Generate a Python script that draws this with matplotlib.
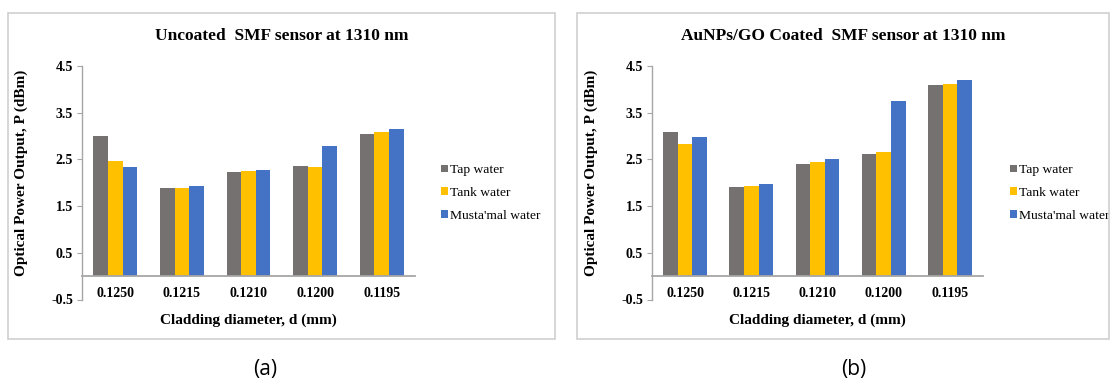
import numpy as np
import matplotlib
matplotlib.use('Agg')
import matplotlib.pyplot as plt
from matplotlib.patches import Rectangle

# data
diameters = ['0.1250', '0.1215', '0.1210', '0.1200', '0.1195']
series_names = ['Tap water', 'Tank water', "Musta'mal water"]

uncoated_tap = [3.00, 1.88, 2.22, 2.35, 3.05]
uncoated_tank = [2.47, 1.88, 2.25, 2.33, 3.08]
uncoated_mustamal = [2.33, 1.94, 2.28, 2.78, 3.15]

coated_tap = [3.09, 1.90, 2.41, 2.61, 4.09]
coated_tank = [2.84, 1.92, 2.45, 2.65, 4.11]
coated_mustamal = [2.98, 1.97, 2.51, 3.74, 4.20]

colors = ['#767171', '#FFC000', '#4472C4']
yticks = [-0.5, 0.5, 1.5, 2.5, 3.5, 4.5]

plt.rcParams['font.family'] = ['Liberation Serif', 'DejaVu Serif']

W, H = 1110, 383
fig = plt.figure(figsize=(W / 100, H / 100), dpi=100)


def fx(px):
    return px / W


def fy(py):
    return 1 - py / H


def draw_panel(left_px, right_px, box_left, box_right, title, series, legend_x, tag, tag_x):
    # outer chart frame
    fig.patches.append(Rectangle((fx(box_left), fy(339)), fx(box_right - box_left), (339 - 13) / H,
                                 transform=fig.transFigure, fill=False,
                                 edgecolor='#d0d0d0', linewidth=1.2))
    ax = fig.add_axes([fx(left_px), fy(299.5), fx(right_px - left_px), 233.5 / H])
    # spine position first, it resets the ticks
    ax.spines['bottom'].set_position(('data', 0))
    x = np.arange(len(diameters))
    bw = 0.22
    for i, vals in enumerate(series):
        ax.bar(x + (i - 1) * bw, vals, bw, color=colors[i], label=series_names[i])
    ax.set_xlim(-0.5, len(diameters) - 0.5)
    ax.set_ylim(-0.5, 4.5)
    ax.set_yticks(yticks)
    ax.set_yticklabels([f'{t:.1f}' for t in yticks], fontsize=10, fontweight='bold')
    ax.set_xticks(x)
    ax.set_xticklabels(diameters, fontsize=10, fontweight='bold')
    ax.spines['top'].set_visible(False)
    ax.spines['right'].set_visible(False)
    ax.spines['bottom'].set_color('#a6a6a6')
    ax.spines['left'].set_color('#a6a6a6')
    ax.spines['bottom'].set_linewidth(1.3)
    ax.spines['left'].set_linewidth(1.0)
    ax.tick_params(axis='x', length=0, pad=8)
    ax.tick_params(axis='y', length=3.5, color='#a6a6a6', pad=3)
    ax.set_ylabel('Optical Power Output, P (dBm)', fontsize=11, fontweight='bold')
    ax.yaxis.set_label_coords(-54 / (right_px - left_px), 0.542)
    fig.text(fx((box_left + box_right) / 2), fy(36), title, ha='center', va='center',
             fontsize=12.5, fontweight='bold')
    fig.text(fx((left_px + right_px) / 2), fy(320), 'Cladding diameter, d (mm)', ha='center',
             va='center', fontsize=11, fontweight='bold')
    ax.legend(loc='center left', bbox_to_anchor=(fx(legend_x), fy(193)),
              bbox_transform=fig.transFigure, frameon=False, fontsize=9.7,
              handlelength=0.5, handleheight=0.5, handletextpad=0.15,
              labelspacing=0.8, borderpad=0, borderaxespad=0)
    fig.text(fx(tag_x), fy(369), tag, ha='center', va='center', fontsize=15,
             family=['Open Sans', 'DejaVu Sans'])
    return ax


draw_panel(82, 415, 8, 555, 'Uncoated  SMF sensor at 1310 nm',
           [uncoated_tap, uncoated_tank, uncoated_mustamal], 441, '(a)', 265)
draw_panel(652, 983, 577, 1109, 'AuNPs/GO Coated  SMF sensor at 1310 nm',
           [coated_tap, coated_tank, coated_mustamal], 1010, '(b)', 854)

fig.savefig('out.png', dpi=100)
